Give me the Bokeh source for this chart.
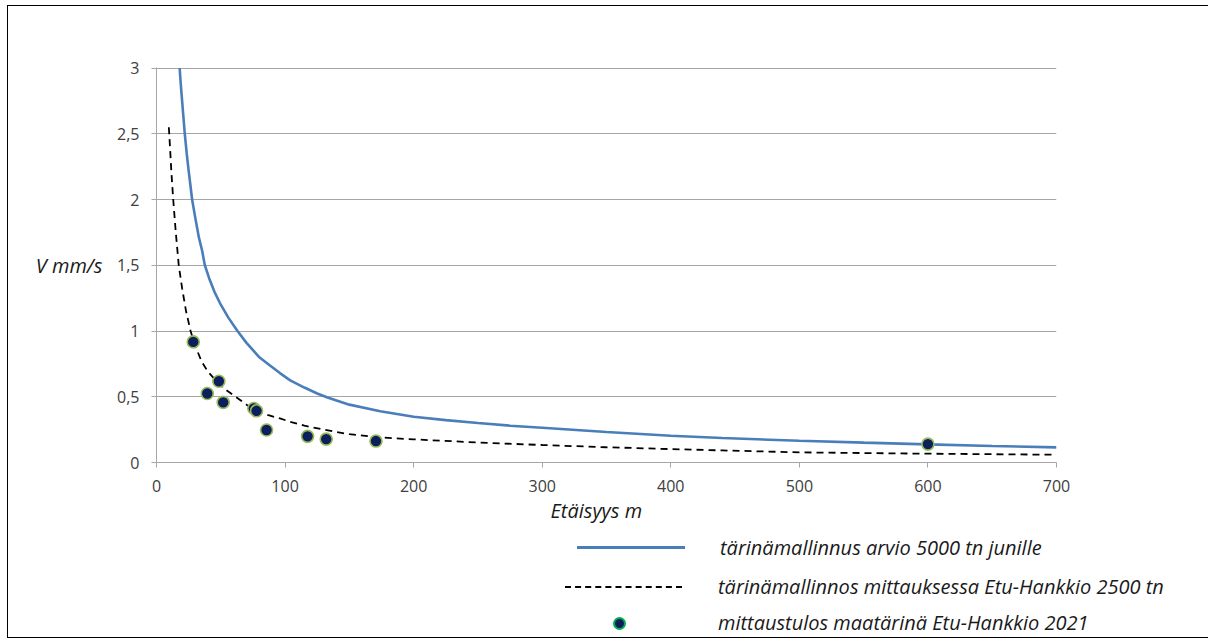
from bokeh.plotting import figure
from bokeh.layouts import column
from bokeh.models import (Range1d, ColumnDataSource, FixedTicker, LinearAxis, Title, Div)
from bokeh.embed import file_html
from bokeh.resources import INLINE

# Model curve: 5000 tn trains (blue)
model5000_dist = [18, 19, 20, 21, 22, 23.5, 25, 27.7, 30, 33, 35.5, 37.6, 41, 45, 50, 56, 63,
                  70, 80, 88, 96, 104, 115, 125, 133, 150, 174, 200, 225, 250, 275, 300,
                  350, 400, 440, 500, 550, 600, 650, 700]
model5000_v = [3.0, 2.86, 2.74, 2.62, 2.5, 2.35, 2.22, 2.0, 1.87, 1.71, 1.61, 1.5, 1.4, 1.3,
               1.2, 1.1, 1.0, 0.91, 0.8, 0.74, 0.68, 0.625, 0.57, 0.525, 0.495, 0.44,
               0.39, 0.348, 0.322, 0.30, 0.28, 0.264, 0.232, 0.203, 0.186, 0.165, 0.151,
               0.138, 0.126, 0.115]

# Model curve: measurement Etu-Hankkio 2500 tn (dashed)
model2500_dist = [9.6, 10.5, 11.5, 13, 15, 17.3, 20, 23, 26.5, 30, 35, 40, 48.5, 55, 61.5,
                  70, 78, 87, 96, 104, 115, 130, 150, 175, 200, 250, 300, 350, 400, 440,
                  500, 550, 600, 650, 700]
model2500_v = [2.55, 2.4, 2.22, 2.0, 1.75, 1.5, 1.32, 1.15, 1.0, 0.89, 0.77, 0.69, 0.6,
               0.545, 0.5, 0.44, 0.39, 0.36, 0.335, 0.31, 0.28, 0.25, 0.215, 0.19, 0.176,
               0.152, 0.133, 0.116, 0.102, 0.092, 0.077, 0.072, 0.067, 0.063, 0.059]

# Measured ground vibration 2021
meas_dist = [28.6, 48.5, 39.5, 51.9, 75.7, 77.8, 85.6, 117.5, 132, 170.7, 600]
meas_v = [0.917, 0.618, 0.525, 0.457, 0.411, 0.393, 0.247, 0.199, 0.178, 0.163, 0.14]

x_ticks = [0, 100, 200, 300, 400, 500, 600, 700]
y_ticks = [0, 0.5, 1, 1.5, 2, 2.5, 3]
y_tick_labels = ["0", "0,5", "1", "1,5", "2", "2,5", "3"]

series_names = ["tärinämallinnus arvio 5000 tn junille",
                "tärinämallinnos mittauksessa Etu-Hankkio 2500 tn",
                "mittaustulos maatärinä Etu-Hankkio 2021"]
x_title = "Etäisyys m"
y_title = "V mm/s"

FONT = "Open Sans"
BLUE = "#4a7ebb"
NAVY = "#0b1f5c"

src1 = ColumnDataSource(dict(x=model5000_dist, y=model5000_v))
src2 = ColumnDataSource(dict(x=model2500_dist, y=model2500_v))
src3 = ColumnDataSource(dict(x=meas_dist, y=meas_v))

# ---------------- main chart ----------------
p = figure(width=1200, height=524, output_backend="svg", toolbar_location=None,
           x_range=Range1d(0, 700), y_range=Range1d(0, 3.004))
p.min_border_left = 148
p.min_border_right = 152
p.min_border_top = 61
p.min_border_bottom = 68
p.outline_line_color = None
p.background_fill_color = "white"
p.border_fill_color = "white"

p.xgrid.grid_line_color = None
p.ygrid.grid_line_color = "#a6a6a6"
p.ygrid.grid_line_width = 1.2
p.ygrid.ticker = FixedTicker(ticks=y_ticks)

for ax in (p.xaxis[0], p.yaxis[0]):
    ax.axis_line_color = "#a6a6a6"
    ax.major_tick_line_color = "#a6a6a6"
    ax.minor_tick_line_color = None
    ax.major_tick_in = 0
    ax.major_tick_out = 5
    ax.major_label_text_font = FONT
    ax.major_label_text_font_size = "16px"
    ax.major_label_text_color = "#404040"

p.xaxis.ticker = FixedTicker(ticks=x_ticks)
p.yaxis.ticker = FixedTicker(ticks=y_ticks)
p.yaxis.major_label_overrides = {t: l for t, l in zip(y_ticks, y_tick_labels)}
p.yaxis.major_label_standoff = 12
p.xaxis.major_label_standoff = 12

# y-axis title, horizontal
ytitle_axis = LinearAxis(bounds=(0, 2.62), ticker=FixedTicker(ticks=[]),
                         axis_line_color=None, major_tick_line_color=None,
                         minor_tick_line_color=None, major_tick_out=0,
                         major_label_text_font_size="0px",
                         axis_label=y_title, axis_label_orientation="horizontal",
                         axis_label_text_font=FONT, axis_label_text_font_style="italic",
                         axis_label_text_font_size="20px", axis_label_text_color="#1a1a1a",
                         axis_label_standoff=12)
p.add_layout(ytitle_axis, "left")

# x-axis title
p.add_layout(Title(text=x_title, align="left", offset=394, standoff=1,
                   text_font=FONT, text_font_style="italic", text_font_size="20px",
                   text_color="#1a1a1a"), "below")

p.line("x", "y", source=src1, line_color=BLUE, line_width=2.6)
p.line("x", "y", source=src2, line_color="#000000", line_width=1.8, line_dash="7 5")
p.scatter("x", "y", source=src3, size=12, fill_color=NAVY,
          line_color="#9bbb59", line_width=1.6)

# ---------------- legend strip below the chart ----------------
txt = ("position:absolute;left:{l}px;top:{t}px;line-height:28px;white-space:nowrap;"
       "font-family:'Open Sans';font-style:italic;font-size:20px;color:#1a1a1a;")
legend_html = (
    '<div style="position:relative;width:1200px;height:107px;">'
    '<div style="position:absolute;left:569px;top:16px;width:108px;height:0;'
    'border-top:3px solid ' + BLUE + ';"></div>'
    '<div style="' + txt.format(l=712, t=4) + '">' + series_names[0] + '</div>'
    '<div style="position:absolute;left:557px;top:56px;width:117px;height:0;'
    'border-top:2px dashed #000000;"></div>'
    '<div style="' + txt.format(l=710, t=43) + '">' + series_names[1] + '</div>'
    '<div style="position:absolute;left:605px;top:87px;width:13px;height:13px;'
    'box-sizing:border-box;border-radius:50%;background:' + NAVY + ';'
    'border:2px solid #00b050;"></div>'
    '<div style="' + txt.format(l=710, t=79) + '">' + series_names[2] + '</div>'
    '</div>'
)
lg = Div(text=legend_html, width=1200, height=107, margin=0)

layout = column(p, lg, spacing=0)
layout.styles = {"border-left": "1px solid #000000", "border-top": "1px solid #000000",
                 "border-bottom": "1px solid #000000",
                 "margin-left": "7px", "margin-top": "5px"}

open("out.html", "w").write(file_html(layout, INLINE))
